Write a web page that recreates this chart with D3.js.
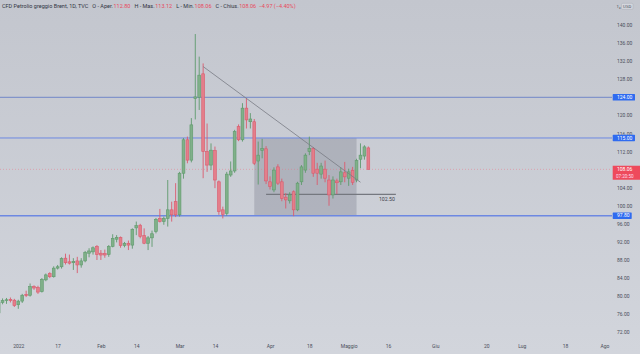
<!DOCTYPE html>
<html>
<head>
<meta charset="utf-8">
<script src="https://cdnjs.cloudflare.com/ajax/libs/d3/7.8.5/d3.min.js"></script>
<style>
  html, body { margin: 0; padding: 0; background: #cbced6; }
  svg { display: block; font-family: Roboto, "Liberation Sans", sans-serif; }
</style>
</head>
<body>
<svg id="chart" width="640" height="354"></svg>
<script>
// daily bars, 27 Dec 2021 -> 9 May 2022
const opens = [76.3, 78.6, 79.0, 79.3, 79.1, 78.1, 78.9, 80.4, 80.2, 82.1,
  81.9, 81.0, 83.6, 85.0, 84.3, 86.2, 86.5, 88.4, 87.6, 87.4,
  87.8, 86.9, 87.8, 89.5, 89.8, 91.0, 89.5, 89.4, 89.2, 91.0,
  92.6, 93.0, 91.2, 91.7, 91.3, 95.1, 95.7, 93.4, 91.7, 92.9,
  94.3, 97.2, 96.5, 97.2, 99.1, 100.9, 98.0, 107.2, 114.6, 110.1,
  123.7, 124.0, 129.2, 112.0, 109.0, 112.2, 105.3, 99.1, 98.3, 106.8,
  107.7, 117.5, 114.6, 121.6, 118.6, 118.6, 109.9, 112.2, 112.6, 105.3,
  103.5, 108.6, 105.3, 101.9, 101.1, 103.1, 99.1, 105.3, 107.9, 112.0,
  112.7, 108.1, 107.0, 108.1, 105.7, 102.4, 105.5, 105.3, 107.3, 106.1,
  107.8, 105.7, 110.3, 111.0, 112.80]
const highs = [78.9, 79.5, 79.6, 79.7, 79.4, 79.2, 80.5, 81.2, 82.8, 82.4,
  82.3, 84.0, 85.0, 85.3, 86.6, 86.9, 88.6, 89.4, 89.2, 88.4,
  88.7, 88.4, 90.0, 90.6, 91.0, 91.3, 90.2, 90.3, 91.3, 93.7,
  93.5, 93.2, 92.0, 92.3, 95.0, 96.5, 96.0, 95.0, 93.3, 94.5,
  97.3, 99.3, 97.6, 105.7, 100.9, 105.0, 107.5, 115.0, 115.3, 119.4,
  138.0, 133.0, 131.5, 118.2, 113.8, 113.1, 105.6, 99.8, 107.5, 109.8,
  116.8, 118.0, 122.7, 123.8, 120.5, 119.2, 114.2, 114.8, 113.2, 106.5,
  108.5, 109.2, 106.0, 102.8, 103.0, 103.4, 105.3, 109.0, 111.6, 115.3,
  113.0, 109.5, 109.5, 110.0, 106.8, 106.5, 106.0, 108.5, 109.7, 108.2,
  108.6, 110.4, 113.8, 113.4, 113.12]
const lows = [76.0, 78.2, 78.3, 78.6, 77.6, 77.2, 78.5, 79.8, 79.9, 81.4,
  80.5, 80.8, 83.3, 84.0, 84.1, 85.9, 86.1, 87.0, 87.0, 85.8,
  85.1, 86.3, 87.5, 88.6, 89.2, 88.0, 88.0, 88.5, 88.7, 90.8,
  91.9, 90.7, 90.8, 90.2, 90.5, 93.5, 92.8, 91.5, 90.2, 90.9,
  93.9, 96.3, 95.8, 95.4, 96.5, 97.5, 97.6, 106.0, 109.4, 109.6,
  119.1, 121.2, 106.1, 107.5, 107.9, 103.9, 98.0, 97.2, 97.8, 106.4,
  107.3, 114.3, 114.2, 117.1, 117.1, 109.0, 104.7, 110.5, 104.8, 103.6,
  103.0, 104.6, 101.0, 99.4, 100.5, 97.7, 98.8, 104.6, 107.3, 111.2,
  106.4, 104.6, 106.0, 105.2, 100.0, 101.6, 102.6, 104.6, 105.2, 104.4,
  104.6, 105.2, 108.3, 110.2, 108.06]
const closes = [78.6, 79.0, 79.2, 79.0, 77.9, 78.9, 80.2, 80.1, 82.1, 81.8,
  80.9, 83.7, 84.7, 84.3, 86.2, 86.5, 88.3, 87.4, 87.3, 87.7,
  86.9, 87.8, 89.7, 90.0, 90.7, 89.2, 89.1, 89.1, 91.0, 92.8,
  93.0, 91.2, 91.7, 91.3, 94.8, 95.6, 93.2, 91.7, 92.9, 93.8,
  97.0, 96.5, 97.2, 99.1, 98.0, 98.0, 107.2, 114.6, 110.1, 117.9,
  124.1, 128.9, 112.0, 109.0, 112.3, 105.7, 98.7, 98.1, 107.0, 107.7,
  116.4, 114.6, 121.6, 119.0, 119.2, 109.4, 111.2, 112.7, 105.5, 104.3,
  107.9, 105.0, 101.6, 101.3, 102.4, 99.1, 105.0, 108.6, 111.2, 112.7,
  107.2, 107.2, 108.8, 106.1, 102.4, 105.7, 105.1, 107.5, 106.4, 107.5,
  105.2, 110.0, 111.2, 113.03, 108.06]

const holidays = ["2022-04-15"]
const xTicks = [["2022-01-03", "2022"], ["2022-01-17", "17"], ["2022-02-01", "Feb"],
  ["2022-02-14", "14"], ["2022-03-01", "Mar"], ["2022-03-14", "14"], ["2022-04-01", "Apr"],
  ["2022-04-18", "18"], ["2022-05-02", "Maggio"], ["2022-05-16", "16"], ["2022-06-01", "Giu"],
  ["2022-06-20", "20"], ["2022-07-01", "Lug"], ["2022-07-18", "18"], ["2022-08-01", "Ago"]]
const yTicks = d3.range(72, 141, 4)

// drawings on the chart
const levels = [124, 115, 97.8]
const support = {from: "2022-03-31", to: "2022-05-18", price: 102.5}
const trend = {from: "2022-03-09", p0: 130.8, to: "2022-05-05", p1: 105.2}
const box = {from: "2022-03-28", to: "2022-05-04", top: 115, bottom: 97.8}
const clock = "07:20:50"

const fmtDay = d3.timeFormat("%Y-%m-%d")
// trading calendar (weekdays, past and projected)
const calendar = d3.timeDay.range(new Date(2021, 11, 27), new Date(2022, 7, 6))
  .filter(d => d.getDay() % 6 !== 0 && !holidays.includes(fmtDay(d)))
  .map(fmtDay)
const idx = s => calendar.indexOf(s)

const bars = opens.map((o, i) => ({i: i, o: o, h: highs[i], l: lows[i], c: closes[i]}))

const W = 640, H = 354, plotRight = 612
const svg = d3.select("#chart")

const x = d3.scaleLinear().domain([0.35, 155.95]).range([0, plotRight])
const y = d3.scaleLinear().domain([72, 140]).range([332.3, 25])

// background
const defs = svg.append("defs")
const grad = defs.append("linearGradient").attr("id", "bg")
  .attr("x1", 0).attr("x2", 0).attr("y1", 0).attr("y2", 1)
grad.append("stop").attr("offset", "0%").attr("stop-color", "#c3c6ce")
grad.append("stop").attr("offset", "100%").attr("stop-color", "#d2d5dc")
svg.append("rect").attr("width", W).attr("height", H).attr("fill", "url(#bg)")

defs.append("clipPath").attr("id", "plot")
  .append("rect").attr("width", plotRight).attr("height", 340)

const g = svg.append("g").attr("clip-path", "url(#plot)")

// shaded range box
g.append("rect")
  .attr("x", x(idx(box.from)))
  .attr("y", y(box.top))
  .attr("width", x(idx(box.to)) - x(idx(box.from)))
  .attr("height", y(box.bottom) - y(box.top))
  .attr("fill", "rgba(88,92,108,0.24)")

// horizontal levels
g.selectAll(".level").data(levels).join("line")
  .attr("class", "level")
  .attr("x1", 0).attr("x2", plotRight)
  .attr("y1", d => y(d)).attr("y2", d => y(d))
  .attr("stroke", (d, i) => i === 0 ? "#7186c8" : "#6d88e2")
  .attr("stroke-width", (d, i) => i === 2 ? 1.4 : 1)

// last price dotted line
g.append("line")
  .attr("x1", 0).attr("x2", plotRight)
  .attr("y1", y(closes[closes.length - 1])).attr("y2", y(closes[closes.length - 1]))
  .attr("stroke", "rgba(236,110,128,0.45)")
  .attr("stroke-dasharray", "1,2")

// support ray 102.50
g.append("line")
  .attr("x1", x(idx(support.from))).attr("x2", x(idx(support.to)))
  .attr("y1", y(support.price)).attr("y2", y(support.price))
  .attr("stroke", "#75787f").attr("stroke-width", 1.3)
g.append("text")
  .attr("x", x(idx(support.to)) - 1).attr("y", y(support.price) + 6.5)
  .attr("text-anchor", "end")
  .attr("font-size", 5.2).attr("fill", "#3c404b")
  .text(support.price.toFixed(2))

// candles
const green = {fill: "#80b089", stroke: "#5e9a6c"}
const red = {fill: "#e47e8a", stroke: "#da5a6d"}
const col = d => d.c >= d.o ? green : red

const candle = g.selectAll(".bar").data(bars).join("g").attr("class", "bar")
candle.append("line")
  .attr("x1", d => x(d.i)).attr("x2", d => x(d.i))
  .attr("y1", d => y(d.h)).attr("y2", d => y(d.l))
  .attr("stroke", d => col(d).stroke).attr("stroke-width", 0.9)
candle.append("rect")
  .attr("x", d => x(d.i) - 1.4)
  .attr("width", 2.8)
  .attr("y", d => y(Math.max(d.o, d.c)))
  .attr("height", d => Math.max(0.8, Math.abs(y(d.o) - y(d.c))))
  .attr("fill", d => col(d).fill)
  .attr("stroke", d => col(d).stroke).attr("stroke-width", 0.6)

// trend line
g.append("line")
  .attr("x1", x(idx(trend.from))).attr("y1", y(trend.p0))
  .attr("x2", x(idx(trend.to))).attr("y2", y(trend.p1))
  .attr("stroke", "#787b84").attr("stroke-width", 0.8)

// price axis
const yAxis = svg.append("g")
  .attr("transform", `translate(${plotRight},0)`)
  .call(d3.axisRight(y).tickValues(yTicks).tickSize(0).tickPadding(5)
    .tickFormat(d3.format(".2f")))
yAxis.select(".domain").remove()
yAxis.selectAll("text").attr("font-size", 5).attr("fill", "#4a4e5a")
  .attr("font-family", "Roboto, 'Liberation Sans', sans-serif")

// time axis
const xAxis = svg.append("g")
  .attr("transform", "translate(0,342.5)")
  .call(d3.axisBottom(x).tickValues(xTicks.map(t => idx(t[0]))).tickSize(0).tickPadding(2)
    .tickFormat((d, i) => xTicks[i][1]))
xAxis.select(".domain").remove()
xAxis.selectAll("text").attr("font-size", 5).attr("fill", "#4a4e5a")
  .attr("font-family", "Roboto, 'Liberation Sans', sans-serif")

// level tags on the price axis
const tags = svg.selectAll(".tag").data(levels).join("g").attr("class", "tag")
  .attr("transform", d => `translate(${plotRight + 0.7},${y(d)})`)
tags.append("rect")
  .attr("x", 0).attr("y", -3.2)
  .attr("width", d => d < 100 ? 19 : 22.3).attr("height", 6.4)
  .attr("rx", 0.6).attr("fill", "#2f6bf0")
tags.append("text")
  .attr("x", 4.3).attr("y", 0).attr("dy", "0.35em")
  .attr("font-size", 5).attr("fill", "#fff")
  .text(d => d.toFixed(2))

// last price tag
const last = bars[bars.length - 1]
const lastTag = svg.append("g").attr("transform", `translate(${plotRight + 0.7},${y(last.c)})`)
lastTag.append("rect")
  .attr("x", 0).attr("y", -3.6).attr("width", W - plotRight).attr("height", 14)
  .attr("fill", "#ee4a5c")
lastTag.append("text").attr("x", 4.3).attr("y", 0).attr("dy", "0.35em")
  .attr("font-size", 5).attr("fill", "#fff").text(last.c.toFixed(2))
lastTag.append("text").attr("x", 3.2).attr("y", 7.5).attr("dy", "0.35em")
  .attr("font-size", 4.6).attr("fill", "#fde").text(clock)

// currency tag
svg.append("rect").attr("x", 621.5).attr("y", 3.3).attr("width", 11.5).attr("height", 6)
  .attr("rx", 1).attr("fill", "#d3d6dd").attr("stroke", "#a9acb6").attr("stroke-width", 0.5)
svg.append("text").attr("x", 627.2).attr("y", 6.3).attr("dy", "0.35em")
  .attr("text-anchor", "middle").attr("font-size", 4.3).attr("fill", "#4a4e5a").text("USD")
svg.append("text").attr("x", 616.5).attr("y", 6.3).attr("dy", "0.35em")
  .attr("font-size", 4.3).attr("fill", "#4a4e5a").text("1\u2084")

// legend header, flowing left to right
const prev = closes[closes.length - 2]
const chg = last.c - prev
const head = svg.append("text").attr("x", 2).attr("y", 6).attr("dy", "0.35em")
  .attr("font-size", 5.5).attr("fill", "#30343f")
head.append("tspan").text("CFD Petrolio greggio Brent, 1D, TVC")
const parts = [["O - Aper.", last.o], ["H - Mas.", last.h], ["L - Min.", last.l], ["C - Chius.", last.c]]
parts.forEach(p => {
  head.append("tspan").attr("dx", 4).text(p[0])
  head.append("tspan").attr("fill", "#e8495c").attr("dx", 0.6).text(p[1].toFixed(2))
})
head.append("tspan").attr("fill", "#e8495c").attr("dx", 2.5)
  .text(`${chg.toFixed(2).replace("-", "\u2212")} (${(chg / prev * 100).toFixed(2).replace("-", "\u2212")}%)`)
</script>
</body>
</html>
